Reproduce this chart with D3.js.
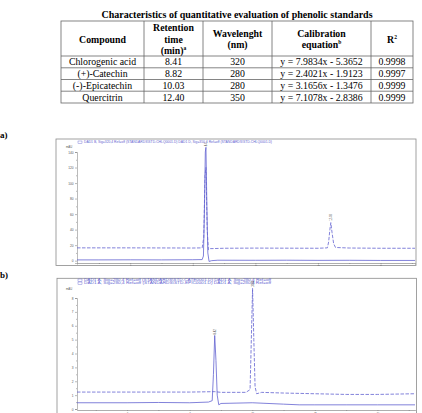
<!DOCTYPE html>
<html>
<head>
<meta charset="utf-8">
<script src="https://cdn.jsdelivr.net/npm/d3@7"></script>
<style>
  body { margin:0; background:#fff; }
  svg { display:block; }
</style>
</head>
<body>
<div id="allContainer"></div>
<script>
// table data
var compounds = ["Chlorogenic acid", "(+)-Catechin", "(-)-Epicatechin", "Quercitrin"];
var retention = ["8.41", "8.82", "10.03", "12.40"];
var wavelength = ["320", "280", "280", "350"];
var equations = ["y = 7.9834x - 5.3652", "y = 2.4021x - 1.9123", "y = 3.1656x - 1.3476", "y = 7.1078x - 2.8386"];
var r2 = ["0.9998", "0.9997", "0.9999", "0.9999"];

// chromatogram a) : [time (min), mAU]
var traceA320 = [[4.3,1.0],[5,1.0],[6,1.1],[7,1.0],[8,1.2],[8.3,1.4],[8.34,6],[8.37,60],[8.40,140],[8.42,146],[8.45,70],[8.48,10],[8.52,-1],[8.6,0],[8.8,0.6],[10,0.5],[11,0.6],[12,0.4],[13,0.5],[14,0.3],[15.1,0.3]];
var traceA350 = [[4.3,16.5],[6,16.5],[8,16.3],[8.3,16.5],[8.35,30],[8.39,110],[8.42,120],[8.46,40],[8.5,14],[8.56,15.5],[9,16],[10,16.2],[12,16],[12.3,16.5],[12.34,24],[12.38,40],[12.41,49],[12.45,36],[12.5,22],[12.56,17],[13,16.3],[14,16],[15.1,16]];
var peaksA = [[8.41,146,"8.41"],[12.40,50,"12.40"]];
var yTicksA = [0,20,40,60,80,100,120,140];
var legendA = ["DAD1 B, Sig=320,4 Ref=off (STANDARDS\\STD-CHLQ0001.D)   DAD1 D, Sig=350,4 Ref=off (STANDARDS\\STD-CHLQ0001.D)"];

// chromatogram b)
var traceB1 = [[4.4,0.45],[6,0.45],[7,0.47],[8,0.45],[8.6,0.5],[8.72,0.6],[8.76,2.5],[8.80,5.3],[8.84,3.5],[8.88,1.0],[8.93,0.3],[9,0.4],[10,0.45],[11,0.35],[11.5,0.3],[12,0.3],[13,0.3],[14,0.3],[15.2,0.3]];
var traceB2 = [[4.4,1.22],[6,1.22],[8,1.22],[8.8,1.25],[9,1.2],[9.8,1.2],[9.93,1.4],[9.97,5],[10.01,8.7],[10.05,5],[10.09,1.6],[10.14,1.1],[10.3,1.2],[11,1.15],[12,1.1],[13,1.05],[14,1.05],[15.2,1.1]];
var peaksB = [[8.82,5.3,"8.82"],[10.03,8.7,"10.03"]];
var yTicksB = [0,1,2,3,4,5,6,7,8];
var legendB = ["DAD1 A, Sig=280,4 Ref=off (STANDARDS\\STD-CATE0001.D)  DAD1 A, Sig=280,4 Ref=off",
               "DAD1 A, Sig=280,4 Ref=off (STANDARDS\\STD-EPIC0001.D)  DAD1 A, Sig=280,4 Ref=off"];

var timeTicks = [6,8,10,12,14];
var blue = "#6262d0";

var svg = d3.select("#allContainer")
    .append("svg")
    .attr("width", 422)
    .attr("height", 413);

// --------- Table
var serif = "'Liberation Serif', 'Times New Roman', serif";
var colEdges = [61, 144, 203, 272, 371, 413];
var rowEdges = [21, 56, 67.8, 79.5, 91.2, 103];
var colMid = d3.range(5).map(function(i){ return (colEdges[i] + colEdges[i+1]) / 2; });

var tbl = svg.append("g").attr("class", "table").style("font-family", serif);

tbl.append("text")
    .attr("x", 237).attr("y", 18)
    .attr("text-anchor", "middle")
    .attr("font-size", 10).attr("font-weight", "bold")
    .text("Characteristics of quantitative evaluation of phenolic standards");

tbl.append("rect")
    .attr("x", colEdges[0]).attr("y", rowEdges[0])
    .attr("width", colEdges[5] - colEdges[0]).attr("height", rowEdges[5] - rowEdges[0])
    .attr("fill", "none").attr("stroke", "#666").attr("stroke-width", 0.8);

tbl.selectAll(".vline").data(colEdges.slice(1, 5)).enter()
    .append("line")
    .attr("x1", function(d){ return d; }).attr("x2", function(d){ return d; })
    .attr("y1", rowEdges[0]).attr("y2", rowEdges[5])
    .attr("stroke", "#666").attr("stroke-width", 0.8);

tbl.selectAll(".hline").data(rowEdges.slice(1, 5)).enter()
    .append("line")
    .attr("x1", colEdges[0]).attr("x2", colEdges[5])
    .attr("y1", function(d){ return d; }).attr("y2", function(d){ return d; })
    .attr("stroke", "#666").attr("stroke-width", 0.8);

// header
var header = [
    [{t:"Compound", y:43}],
    [{t:"Retention", y:31}, {t:"time", y:42.5}, {t:"(min)", y:54, sup:"a"}],
    [{t:"Wavelenght", y:36.5}, {t:"(nm)", y:48}],
    [{t:"Calibration", y:36.5}, {t:"equation", y:48, sup:"b"}],
    [{t:"R", y:43, sup:"2"}]
];
header.forEach(function(lines, i){
    lines.forEach(function(l){
        var tx = tbl.append("text")
            .attr("x", colMid[i]).attr("y", l.y)
            .attr("text-anchor", "middle")
            .attr("font-size", 9.8).attr("font-weight", "bold")
            .text(l.t);
        if (l.sup) {
            tx.append("tspan").attr("font-size", 5.5).attr("dy", -4).text(l.sup);
        }
    });
});

// body
var columns = [compounds, retention, wavelength, equations, r2];
columns.forEach(function(col, i){
    tbl.selectAll(".c" + i).data(col).enter()
        .append("text")
        .attr("x", colMid[i])
        .attr("y", function(d, j){ return rowEdges[j+1] + 9.3; })
        .attr("text-anchor", "middle")
        .attr("font-size", 9.8)
        .text(function(d){ return d; });
});

// --------- Chromatograms
function chromatogram(opt) {
    var g = svg.append("g").style("font-family", "'Liberation Sans', Arial, sans-serif");

    g.append("text")
        .attr("x", 0).attr("y", opt.labelY)
        .attr("font-family", serif).attr("font-weight", "bold").attr("font-size", 9)
        .text(opt.label);

    g.append("rect")
        .attr("x", opt.frame[0]).attr("y", opt.frame[1])
        .attr("width", opt.frame[2] - opt.frame[0]).attr("height", opt.frame[3] - opt.frame[1])
        .attr("fill", "none").attr("stroke", "#8a8a8a").attr("stroke-width", 0.8);

    var xScale = d3.scaleLinear().domain(opt.xDomain).range([77, 415]);
    var yScale = d3.scaleLinear().domain(opt.yDomain).range(opt.yRange);

    // y axis
    var yAxisG = g.append("g").attr("transform", "translate(77,0)");
    yAxisG.call(d3.axisLeft(yScale).tickValues(opt.yTicks).tickSize(2).tickPadding(1.5));
    yAxisG.select(".domain").attr("stroke", "#777").attr("stroke-width", 0.5);
    yAxisG.selectAll(".tick line").attr("stroke", "#777").attr("stroke-width", 0.5);
    yAxisG.selectAll("text").attr("font-size", 3.2).attr("fill", "#555");
    var minorY = opt.yTicks.slice(1).map(function(d, i){ return (d + opt.yTicks[i]) / 2; });
    g.append("g").attr("transform", "translate(77,0)")
        .call(d3.axisLeft(yScale).tickValues(minorY).tickSize(1).tickFormat(""))
        .call(function(s){ s.select(".domain").remove(); s.selectAll("line").attr("stroke", "#777").attr("stroke-width", 0.5); });

    g.append("text")
        .attr("x", 66).attr("y", opt.unitY)
        .attr("font-size", 2.8).attr("fill", "#555")
        .text("mAU");

    // x axis
    var xAxisG = g.append("g").attr("transform", "translate(0," + opt.axisY + ")");
    xAxisG.call(d3.axisBottom(xScale).tickValues(timeTicks).tickSize(opt.xTickSize).tickPadding(0.3));
    xAxisG.select(".domain").attr("stroke", "#777").attr("stroke-width", 0.6);
    xAxisG.selectAll(".tick line").attr("stroke", "#777").attr("stroke-width", 0.5);
    xAxisG.selectAll("text").attr("font-size", opt.xFont).attr("fill", "#555");
    var minorX = d3.range(5, 16).filter(function(d){ return d % 2 === 1; });
    g.append("g").attr("transform", "translate(0," + opt.axisY + ")")
        .call(d3.axisBottom(xScale).tickValues(minorX).tickSize(1).tickFormat(""))
        .call(function(s){ s.select(".domain").remove(); s.selectAll("line").attr("stroke", "#777").attr("stroke-width", 0.5); });

    // legend
    opt.legend.forEach(function(txt, i){
        var ly = opt.legendY + i * 3;
        g.append("rect")
            .attr("x", 78).attr("y", ly - 2).attr("width", 4).attr("height", 2.2)
            .attr("fill", "none").attr("stroke", blue).attr("stroke-width", 0.4);
        g.append("text")
            .attr("x", 84).attr("y", ly)
            .attr("font-size", 2.8).attr("fill", blue)
            .attr("textLength", opt.legendLen).attr("lengthAdjust", "spacingAndGlyphs")
            .text(txt);
    });

    var line = d3.line()
        .x(function(d){ return xScale(d[0]); })
        .y(function(d){ return yScale(d[1]); });

    opt.traces.forEach(function(tr){
        g.append("path")
            .datum(tr.data)
            .attr("d", line)
            .attr("fill", "none")
            .attr("stroke", blue)
            .attr("stroke-width", 0.8)
            .attr("stroke-dasharray", tr.dashed ? "3.5,1.5" : null);
    });

    // peak labels
    g.selectAll(".peak").data(opt.peaks).enter()
        .append("text")
        .attr("transform", function(d){ return "translate(" + (xScale(d[0]) + 1) + "," + (yScale(d[1]) - 1) + ") rotate(-90)"; })
        .attr("font-size", 2.6).attr("fill", "#333")
        .text(function(d){ return d[2]; });
}

chromatogram({
    label: "a)", labelY: 138,
    frame: [56, 139, 416, 265.5],
    xDomain: [4.3, 15.1],
    yDomain: [-3, 140], yRange: [263, 152],
    yTicks: yTicksA, unitY: 148,
    axisY: 263, xTickSize: 1.5, xFont: 1.8,
    legend: legendA, legendY: 143, legendLen: 188,
    traces: [{data: traceA350, dashed: true}, {data: traceA320, dashed: false}],
    peaks: peaksA
});

chromatogram({
    label: "b)", labelY: 278,
    frame: [57, 278.3, 416.5, 430],
    xDomain: [4.4, 15.2],
    yDomain: [0, 8], yRange: [409, 298],
    yTicks: yTicksB, unitY: 290,
    axisY: 410, xTickSize: 1, xFont: 2.2,
    legend: legendB, legendY: 281, legendLen: 187,
    traces: [{data: traceB2, dashed: true}, {data: traceB1, dashed: false}],
    peaks: peaksB
});
</script>
</body>
</html>
